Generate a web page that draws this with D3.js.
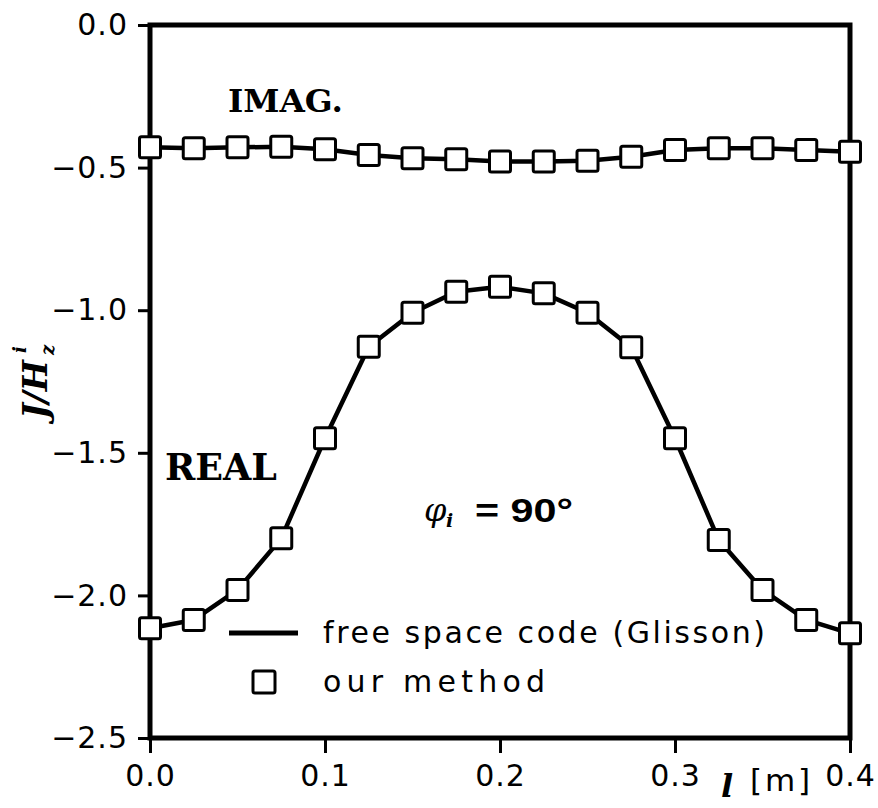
<!DOCTYPE html>
<html>
<head>
<meta charset="utf-8">
<script src="https://cdn.jsdelivr.net/npm/d3@7"></script>
<style>
  body { margin: 0; background: #fff; }
  #graph { width: 878px; height: 808px; }
  .axis text { font-family: "DejaVu Sans", sans-serif; font-size: 30px; fill: #000; letter-spacing: 1px; }
  .axis line { stroke: #000; stroke-width: 3px; }
  .axis path { display: none; }
</style>
</head>
<body>
<div id="graph"></div>
<script>
// data
var positions = [0, 0.025, 0.05, 0.075, 0.1, 0.125, 0.15, 0.175, 0.2,
                 0.225, 0.25, 0.275, 0.3, 0.325, 0.35, 0.375, 0.4];
var imagValues = [-0.429, -0.432, -0.429, -0.427, -0.436, -0.456, -0.467, -0.471, -0.479,
                  -0.479, -0.476, -0.462, -0.438, -0.432, -0.432, -0.438, -0.444];
var realValues = [-2.115, -2.086, -1.981, -1.800, -1.449, -1.128, -1.009, -0.935, -0.918,
                  -0.941, -1.009, -1.130, -1.449, -1.806, -1.981, -2.086, -2.133];
var xTicks = [0, 0.1, 0.2, 0.3, 0.4];
var yTicks = [0, -0.5, -1.0, -1.5, -2.0, -2.5];
var legendLabels = ["free space code (Glisson)", "our method"];

function Graph() {
    var width = 878, height = 808;
    var left = 150, right = 850, top = 25, bottom = 738;

    var vis = d3.select("#graph")
        .append("svg:svg")
        .attr("width", width)
        .attr("height", height);

    var xScale = d3.scaleLinear().domain([0, 0.4]).range([left, right]);
    var yScale = d3.scaleLinear().domain([-2.5, 0]).range([bottom, top]);

    var fmt = d3.format(".1f");

    var xAxis = d3.axisBottom(xScale)
        .tickValues(xTicks)
        .tickSize(15)
        .tickPadding(12)
        .tickFormat(fmt);

    var yAxis = d3.axisLeft(yScale)
        .tickValues(yTicks)
        .tickSize(12)
        .tickPadding(10)
        .tickFormat(fmt);

    vis.append("g")
        .attr("class", "axis axis--x")
        .attr("transform", "translate(0," + bottom + ")")
        .call(xAxis);

    vis.append("g")
        .attr("class", "axis axis--y")
        .attr("transform", "translate(" + left + ",0)")
        .call(yAxis);

    // frame
    vis.append("rect")
        .attr("x", left)
        .attr("y", top)
        .attr("width", right - left)
        .attr("height", bottom - top)
        .attr("fill", "none")
        .attr("stroke", "#000")
        .attr("stroke-width", 5);

    var line = d3.line()
        .x(function(d, i) { return xScale(positions[i]); })
        .y(function(d) { return yScale(d); });

    [imagValues, realValues].forEach(function(series) {
        vis.append("path")
            .datum(series)
            .attr("d", line)
            .attr("fill", "none")
            .attr("stroke", "#000")
            .attr("stroke-width", 4.5)
            .attr("stroke-linejoin", "round");
    });

    [imagValues, realValues].forEach(function(series) {
        vis.append("g").selectAll("rect")
            .data(series)
            .enter().append("rect")
            .attr("x", function(d, i) { return xScale(positions[i]) - 10.5; })
            .attr("y", function(d) { return yScale(d) - 10.5; })
            .attr("width", 21)
            .attr("height", 21)
            .attr("rx", 2)
            .attr("fill", "#fff")
            .attr("stroke", "#000")
            .attr("stroke-width", 3);
    });

    // curve labels
    vis.append("text")
        .attr("x", 228).attr("y", 112)
        .attr("textLength", 115)
        .attr("lengthAdjust", "spacingAndGlyphs")
        .style("font-family", "DejaVu Serif, serif")
        .style("font-weight", "bold")
        .style("font-size", "32px")
        .text("IMAG.");

    vis.append("text")
        .attr("x", 165).attr("y", 480)
        .attr("textLength", 112)
        .attr("lengthAdjust", "spacingAndGlyphs")
        .style("font-family", "DejaVu Serif, serif")
        .style("font-weight", "bold")
        .style("font-size", "37px")
        .text("REAL");

    // phi_i = 90 deg
    vis.append("text")
        .attr("x", 424).attr("y", 521)
        .style("font-family", "DejaVu Serif, serif")
        .style("font-style", "italic")
        .style("font-size", "32px")
        .text("\u03c6");
    vis.append("text")
        .attr("x", 446).attr("y", 527)
        .style("font-family", "DejaVu Serif, serif")
        .style("font-style", "italic")
        .style("font-weight", "bold")
        .style("font-size", "19px")
        .text("i");
    vis.append("text")
        .attr("x", 475).attr("y", 522)
        .attr("textLength", 98)
        .attr("lengthAdjust", "spacingAndGlyphs")
        .style("font-family", "Liberation Sans, sans-serif")
        .style("font-weight", "bold")
        .style("font-size", "34px")
        .text("= 90\u00b0");

    // y axis title
    var yt = vis.append("g")
        .attr("transform", "translate(47,419) rotate(-90)");
    yt.append("text")
        .attr("x", 0).attr("y", 0)
        .style("font-family", "DejaVu Serif, serif")
        .style("font-style", "italic")
        .style("font-weight", "bold")
        .style("font-size", "33px")
        .text("J/H");
    yt.append("text")
        .attr("x", 66).attr("y", -21)
        .style("font-family", "DejaVu Serif, serif")
        .style("font-style", "italic")
        .style("font-weight", "bold")
        .style("font-size", "18px")
        .text("i");
    yt.append("text")
        .attr("x", 64).attr("y", 7)
        .style("font-family", "DejaVu Serif, serif")
        .style("font-style", "italic")
        .style("font-weight", "bold")
        .style("font-size", "18px")
        .text("z");

    // x axis title
    vis.append("text")
        .attr("x", 721).attr("y", 797)
        .style("font-family", "DejaVu Serif, serif")
        .style("font-style", "italic")
        .style("font-weight", "bold")
        .style("font-size", "32px")
        .text("l");
    vis.append("text")
        .attr("x", 750).attr("y", 791)
        .attr("textLength", 60)
        .attr("lengthAdjust", "spacing")
        .style("font-family", "DejaVu Sans, sans-serif")
        .style("font-size", "31px")
        .text("[m]");

    // legend
    vis.append("line")
        .attr("x1", 229).attr("x2", 298)
        .attr("y1", 633).attr("y2", 633)
        .attr("stroke", "#000")
        .attr("stroke-width", 5);
    vis.append("rect")
        .attr("x", 253).attr("y", 671)
        .attr("width", 22).attr("height", 22)
        .attr("rx", 2)
        .attr("fill", "#fff")
        .attr("stroke", "#000")
        .attr("stroke-width", 3);

    var legendX = 323, legendY = [643, 692], legendW = [442, 222];
    legendLabels.forEach(function(t, i) {
        vis.append("text")
            .attr("x", legendX).attr("y", legendY[i])
            .attr("textLength", legendW[i])
            .attr("lengthAdjust", "spacing")
            .style("font-family", "DejaVu Sans, sans-serif")
            .style("font-size", "30px")
            .text(t);
    });
}

Graph();
</script>
</body>
</html>
